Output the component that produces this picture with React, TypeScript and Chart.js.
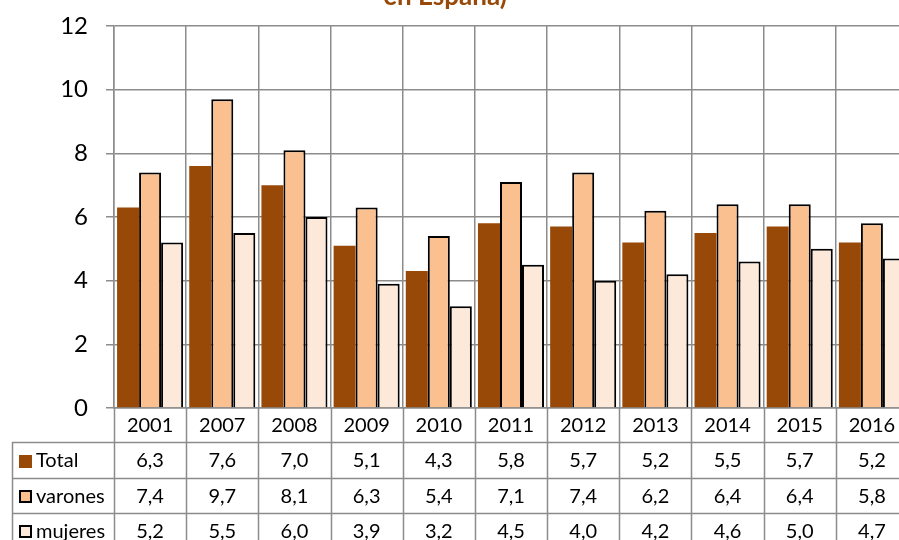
import React, { useEffect, useRef } from "react";
import { Chart, registerables } from "chart.js";

Chart.register(...registerables);

const years = ["2001", "2007", "2008", "2009", "2010", "2011", "2012", "2013", "2014", "2015", "2016"];
const totalValues = [6.3, 7.6, 7.0, 5.1, 4.3, 5.8, 5.7, 5.2, 5.5, 5.7, 5.2];
const varonesValues = [7.4, 9.7, 8.1, 6.3, 5.4, 7.1, 7.4, 6.2, 6.4, 6.4, 5.8];
const mujeresValues = [5.2, 5.5, 6.0, 3.9, 3.2, 4.5, 4.0, 4.2, 4.6, 5.0, 4.7];
const seriesNames = ["Total", "varones", "mujeres"];
const titleText = "en España)";

const COLORS = ["#984807", "#FAC090", "#FDE9D9"];
const GRID = "#8c8c8c";
const FONT = "Lato, 'Open Sans', sans-serif";

const W = 920;
const H = 600;
const OFFSET_Y = 30;

const fmt = (v: number) => v.toFixed(1).replace(".", ",");

const tablePlugin = {
  id: "dataTable",
  afterDraw(chart: any) {
    const ctx = chart.ctx as CanvasRenderingContext2D;
    const xs = chart.scales.x;
    const area = chart.chartArea;
    const n = years.length;
    const catW = (area.right - area.left) / n;
    const rows = [area.bottom, area.bottom + 34, area.bottom + 70, area.bottom + 105, area.bottom + 140];
    const legendLeft = 12;
    ctx.save();
    // title
    ctx.fillStyle = "#984807";
    ctx.font = "bold 26px " + FONT;
    ctx.textAlign = "center";
    ctx.textBaseline = "alphabetic";
    ctx.fillText(titleText, 445, 5 + OFFSET_Y);

    // grid lines of table
    ctx.strokeStyle = GRID;
    ctx.lineWidth = 1.5;
    ctx.beginPath();
    for (let i = 0; i <= n; i++) {
      const x = Math.round(xs.getPixelForValue(i) - catW / 2) + 0.5;
      ctx.moveTo(x, rows[0]);
      ctx.lineTo(x, rows[4]);
    }
    ctx.moveTo(legendLeft + 0.5, rows[1]);
    ctx.lineTo(legendLeft + 0.5, rows[4]);
    for (let r = 1; r < rows.length; r++) {
      ctx.moveTo(legendLeft, Math.round(rows[r]) + 0.5);
      ctx.lineTo(W, Math.round(rows[r]) + 0.5);
    }
    ctx.stroke();

    // text
    ctx.fillStyle = "#000";
    ctx.font = "20px " + FONT;
    ctx.textAlign = "center";
    ctx.textBaseline = "middle";
    years.forEach((y, i) => {
      ctx.fillText(y, xs.getPixelForValue(i), (rows[0] + rows[1]) / 2 + 1);
    });
    const data = [totalValues, varonesValues, mujeresValues];
    data.forEach((arr, r) => {
      const cy = (rows[r + 1] + rows[r + 2]) / 2 + 1;
      arr.forEach((v, i) => {
        ctx.fillText(fmt(v), xs.getPixelForValue(i), cy);
      });
      // legend key
      const size = 13;
      const kx = 19;
      const ky = Math.round(cy - size / 2);
      ctx.fillStyle = COLORS[r];
      ctx.fillRect(kx, ky, size, size);
      if (r > 0) {
        ctx.strokeStyle = "#000";
        ctx.lineWidth = 2;
        ctx.strokeRect(kx + 1, ky + 1, size - 2, size - 2);
      }
      ctx.fillStyle = "#000";
      ctx.textAlign = "left";
      ctx.fillText(seriesNames[r], 36, cy);
      ctx.textAlign = "center";
    });
    ctx.restore();
  },
};

export default function App() {
  const ref = useRef<HTMLCanvasElement>(null);
  useEffect(() => {
    if (!ref.current) return;
    const chart = new Chart(ref.current, {
      type: "bar",
      data: {
        labels: years,
        datasets: [
          { label: seriesNames[0], data: totalValues, backgroundColor: COLORS[0], borderWidth: 0 },
          { label: seriesNames[1], data: varonesValues, backgroundColor: COLORS[1], borderColor: "#000", borderWidth: 2 },
          { label: seriesNames[2], data: mujeresValues, backgroundColor: COLORS[2], borderColor: "#000", borderWidth: 2 },
        ],
      },
      options: {
        responsive: false,
        animation: false,
        devicePixelRatio: 1,
        layout: { padding: { left: 0, right: W - 908, top: 26 + OFFSET_Y, bottom: 0 } },
        datasets: { bar: { categoryPercentage: 0.915, barPercentage: 1 } },
        plugins: { legend: { display: false }, title: { display: false }, tooltip: { enabled: false } },
        scales: {
          x: {
            grid: { offset: true, color: GRID, lineWidth: 1.5, drawTicks: false },
            border: { color: GRID, width: 1.5 },
            ticks: { display: false },
            afterFit: (s: any) => { s.height = H - (408 + OFFSET_Y); },
          },
          y: {
            min: 0,
            max: 12,
            ticks: { stepSize: 2, color: "#000", font: { family: FONT, size: 24 }, padding: 18 },
            grid: { color: GRID, lineWidth: 1.5, drawTicks: true, tickLength: 8 },
            border: { color: GRID, width: 1.5 },
            afterFit: (s: any) => { s.width = 114; },
          },
        },
      },
      plugins: [tablePlugin],
    });
    return () => chart.destroy();
  }, []);
  return (
    <div style={{ position: "fixed", left: 0, top: 0, width: 899, height: 540, overflow: "hidden", background: "#fff" }}>
      <canvas ref={ref} width={W} height={H} style={{ position: "absolute", left: 0, top: -OFFSET_Y, width: W, height: H, display: "block" }} />
    </div>
  );
}
